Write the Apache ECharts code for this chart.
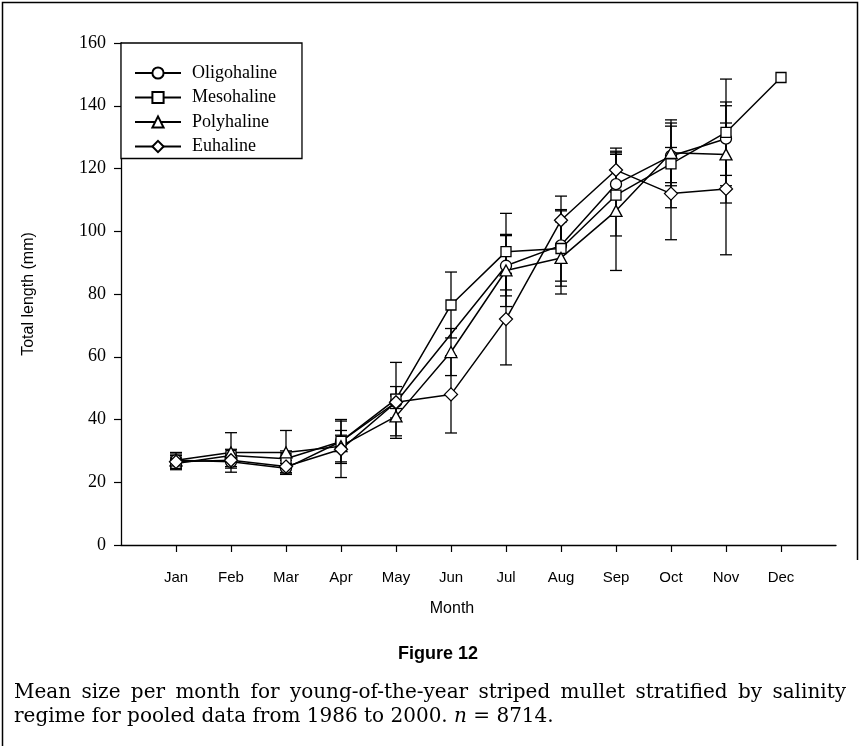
<!DOCTYPE html>
<html>
<head>
<meta charset="utf-8">
<script src="https://cdn.jsdelivr.net/npm/echarts@6/dist/echarts.min.js"></script>
<style>
  html, body { margin: 0; padding: 0; background: #fff; }
  #chart { width: 860px; height: 746px; }
</style>
</head>
<body>
<div id="chart"></div>
<script>
// Months on the horizontal axis
const months = ['Jan', 'Feb', 'Mar', 'Apr', 'May', 'Jun', 'Jul', 'Aug', 'Sep', 'Oct', 'Nov', 'Dec'];

// Mean total length (mm) per month, by salinity regime (null = no sample)
const oligoMean = [27, 26.5, 24.5, 33, 45.5, null, 89, 95.5, 115, 124, 129.5, null];
const mesoMean  = [26, 28.5, 27.5, 33, 46.5, 76.5, 93.5, 94.5, 111.5, 121.5, 131.5, 149];
const polyMean  = [27, 29.5, 29.5, 31.5, 41, 61.5, 87.5, 91.5, 106.5, 125, 124.5, null];
const euMean    = [26.5, 27, 25, 30.5, 45.5, 48, 72, 103.5, 119.5, 112, 113.5, null];

// Error-bar half widths (mm)
const oligoErr = [2, 2, 1.5, 7, 5, null, 9.6, 11.4, 10, 9.5, 11.7, null];
const mesoErr  = [2, 2, 2.5, 2, 11.7, 10.5, 12.2, 12, 13, 14, 17, null];
const polyErr  = [2.5, 6.3, 7, 5, 7, 7.5, 11.5, 11.5, 19, 9.5, 15.5, null];
const euErr    = [2, 2, 2, 9, 2, 12.3, 14.6, 7.7, 7, 14.7, 21, null];

const seriesNames = ['Oligohaline', 'Mesohaline', 'Polyhaline', 'Euhaline'];
const yTicks = [0, 20, 40, 60, 80, 100, 120, 140, 160];

const captionLine1 = 'Mean size per month for young-of-the-year striped mullet stratified by salinity';
const captionLine2 = 'regime for pooled data from 1986 to 2000. ';
const captionN = '8714';

const groups = [
  { name: seriesNames[0], mean: oligoMean, err: oligoErr, symbol: 'circle',   size: 11 },
  { name: seriesNames[1], mean: mesoMean,  err: mesoErr,  symbol: 'rect',     size: 10 },
  { name: seriesNames[2], mean: polyMean,  err: polyErr,  symbol: 'triangle', size: [12, 11] },
  { name: seriesNames[3], mean: euMean,    err: euErr,    symbol: 'diamond',  size: 13 }
];

const serifFont = '"Liberation Serif", "Times New Roman", serif';
const sansFont = '"Liberation Sans", Arial, sans-serif';
const captionFont = '20px "DejaVu Serif", serif';

function errorSeries(g) {
  const data = [];
  g.mean.forEach((m, i) => {
    if (m != null && g.err[i] != null) data.push([i + 1, m - g.err[i], m + g.err[i]]);
  });
  return {
    type: 'custom',
    name: g.name + ' SD',
    z: 1,
    silent: true,
    data: data,
    encode: { x: 0, y: [1, 2] },
    renderItem: function (params, api) {
      const x = api.value(0);
      const lo = api.coord([x, api.value(1)]);
      const hi = api.coord([x, api.value(2)]);
      const hw = 6;
      const st = { stroke: '#000', lineWidth: 1.3 };
      return {
        type: 'group',
        children: [
          { type: 'line', shape: { x1: lo[0], y1: lo[1], x2: hi[0], y2: hi[1] }, style: st },
          { type: 'line', shape: { x1: lo[0] - hw, y1: lo[1], x2: lo[0] + hw, y2: lo[1] }, style: st },
          { type: 'line', shape: { x1: hi[0] - hw, y1: hi[1], x2: hi[0] + hw, y2: hi[1] }, style: st }
        ]
      };
    }
  };
}

function lineSeries(g) {
  return {
    type: 'line',
    name: g.name,
    z: 3,
    data: g.mean.map((m, i) => [i + 1, m]),
    connectNulls: true,
    symbol: g.symbol,
    symbolSize: g.size,
    showAllSymbol: true,
    lineStyle: { color: '#000', width: 1.5 },
    itemStyle: { color: '#fff', borderColor: '#000', borderWidth: 1.3 },
    emphasis: { disabled: true },
    animation: false
  };
}

// Fully justified first caption line: spread the words across the text block
function justifiedWords(text, font, left, right, top) {
  const ctx = document.createElement('canvas').getContext('2d');
  ctx.font = font;
  const words = text.split(' ');
  const widths = words.map(w => ctx.measureText(w).width);
  const total = widths.reduce((a, b) => a + b, 0);
  const gap = (right - left - total) / (words.length - 1);
  const out = [];
  let x = left;
  words.forEach((w, i) => {
    out.push({ type: 'text', silent: true, x: x, y: top, style: { text: w, font: font, fill: '#000' } });
    x += widths[i] + gap;
  });
  return out;
}

const chart = echarts.init(document.getElementById('chart'), null, { renderer: 'canvas' });

chart.setOption({
  backgroundColor: '#fff',
  animation: false,
  grid: { left: 121, right: 24, top: 43, bottom: 201, containLabel: false },
  legend: {
    orient: 'vertical',
    left: 121,
    top: 43,
    padding: [21, 25, 3, 13],
    itemWidth: 46,
    itemHeight: 14,
    itemGap: 6.5,
    borderColor: '#000',
    borderWidth: 1.3,
    backgroundColor: '#fff',
    selectedMode: false,
    data: seriesNames,
    textStyle: { fontFamily: serifFont, fontSize: 18, lineHeight: 18, color: '#000', padding: [0, 0, 0, 6] }
  },
  xAxis: {
    type: 'value',
    min: 0,
    max: 13,
    interval: 1,
    splitLine: { show: false },
    axisLine: { lineStyle: { color: '#000', width: 1.3 } },
    axisTick: { show: true, length: 7, lineStyle: { color: '#000', width: 1.2 }, customValues: months.map((m, i) => i + 1) },
    axisLabel: {
      customValues: months.map((m, i) => i + 1),
      formatter: v => months[v - 1] || '',
      margin: 25,
      fontFamily: sansFont,
      fontSize: 15,
      color: '#000'
    }
  },
  yAxis: {
    type: 'value',
    min: 0,
    max: 160,
    interval: 20,
    name: 'Total length (mm)',
    nameLocation: 'middle',
    nameGap: 84,
    nameTextStyle: { fontFamily: sansFont, fontSize: 16, color: '#000' },
    splitLine: { show: false },
    axisLine: { show: true, lineStyle: { color: '#000', width: 1.3 } },
    axisTick: { show: true, length: 7, lineStyle: { color: '#000', width: 1.2 } },
    axisLabel: {
      customValues: yTicks,
      margin: 15,
      fontFamily: serifFont,
      fontSize: 18,
      color: '#000'
    }
  },
  graphic: [
    { type: 'polyline', silent: true, shape: { points: [[2.5, 746], [2.5, 2.5], [857.5, 2.5], [857.5, 560]] }, style: { stroke: '#000', lineWidth: 1.5, fill: null } },
    { type: 'text', silent: true, x: 452, y: 601, style: { text: 'Month', font: '16px ' + sansFont, fill: '#000', align: 'center' } },
    { type: 'text', silent: true, x: 438, y: 645, style: { text: 'Figure 12', font: 'bold 18px ' + sansFont, fill: '#000', align: 'center' } },
    {
      type: 'text', silent: true, x: 14, y: 707,
      style: {
        text: '{r|' + captionLine2 + '}{i|n}{r| = ' + captionN + '.}',
        rich: {
          r: { font: captionFont, fill: '#000' },
          i: { font: 'italic ' + captionFont, fill: '#000' }
        }
      }
    }
  ].concat(justifiedWords(captionLine1, captionFont, 14, 846, 683)),
  series: groups.map(errorSeries).concat(groups.map(lineSeries))
});
</script>
</body>
</html>
